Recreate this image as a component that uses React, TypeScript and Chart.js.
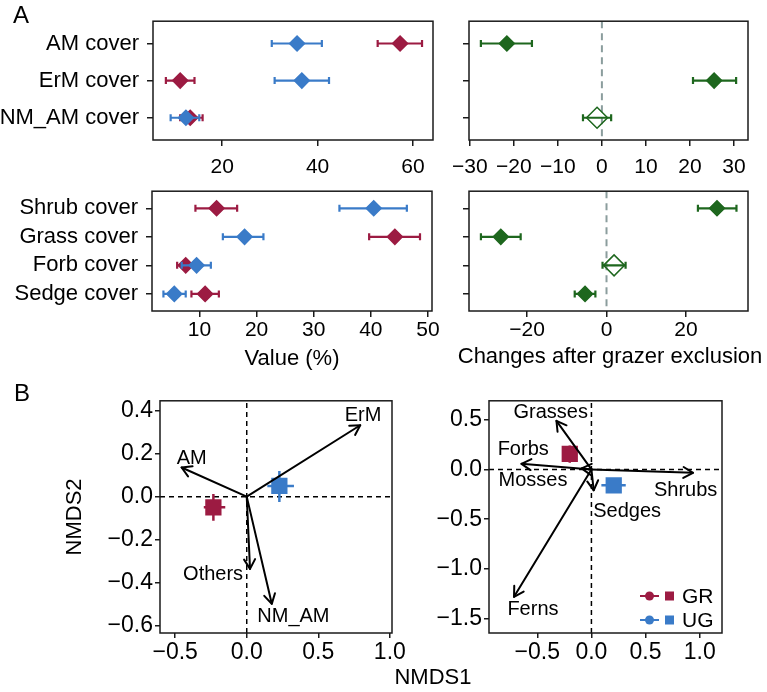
import React, { useEffect, useRef } from 'react';
import { Chart, registerables } from 'chart.js';
Chart.register(...registerables);

const FONT = "'Liberation Sans', Arial, Helvetica, sans-serif";
const RED = '#9c1b42';
const BLUE = '#3a7bc8';
const GREEN = '#1e671e';
const ZERO_GRAY = '#8b9d9d';

// ---- Panel A, mycorrhizal cover ----
const mycCategories = ['AM cover', 'ErM cover', 'NM_AM cover'];
const mycGR = [57.3, 11.2, 13.3];
const mycGRLo = [52.6, 8.2, 11.2];
const mycGRHi = [61.9, 14.2, 15.9];
const mycUG = [35.7, 36.7, 12.4];
const mycUGLo = [30.4, 31.0, 9.2];
const mycUGHi = [40.9, 42.4, 15.2];
const mycChange = [-21.6, 25.5, -1.1];
const mycChangeLo = [-27.5, 20.7, -4.3];
const mycChangeHi = [-15.9, 30.5, 2.1];
const mycChangeSig = [true, true, false];
const mycValueTicks = [20, 40, 60];
const mycChangeTicks = [-30, -20, -10, 0, 10, 20, 30];

// ---- Panel A, plant functional group cover ----
const plantCategories = ['Shrub cover', 'Grass cover', 'Forb cover', 'Sedge cover'];
const plantGR = [13.0, 44.2, 7.6, 11.0];
const plantGRLo = [9.3, 39.7, 6.1, 8.6];
const plantGRHi = [16.6, 48.6, 9.0, 13.4];
const plantUG = [40.5, 17.9, 9.5, 5.6];
const plantUGLo = [34.5, 14.1, 6.9, 3.7];
const plantUGHi = [46.3, 21.2, 12.0, 7.6];
const plantChange = [27.8, -26.6, 1.9, -5.4];
const plantChangeLo = [23.0, -31.6, -1.0, -8.0];
const plantChangeHi = [32.7, -21.6, 4.8, -2.8];
const plantChangeSig = [true, true, false, true];
const plantValueTicks = [10, 20, 30, 40, 50];
const plantChangeTicks = [-20, 0, 20];

// ---- Panel B, NMDS of mycorrhizal types ----
const nmdsTicksX = [-0.5, 0, 0.5, 1.0];
const myc2TicksY = [0.4, 0.2, 0, -0.2, -0.4, -0.6];
const mycGroupX = [-0.233, 0.228]; // GR, UG
const mycGroupY = [-0.05, 0.05];
const mycGroupXLo = [-0.3, 0.144];
const mycGroupXHi = [-0.15, 0.33];
const mycGroupYLo = [-0.112, -0.025];
const mycGroupYHi = [0.012, 0.119];
const mycVectors = ['ErM', 'AM', 'Others', 'NM_AM'];
const mycVecX = [0.793, -0.455, 0.023, 0.175];
const mycVecY = [0.333, 0.136, -0.337, -0.5];
const mycVecLabelX = [0.813, -0.385, -0.235, 0.326];
const mycVecLabelY = [0.38, 0.18, -0.363, -0.56];

// ---- Panel B, NMDS of plant functional groups ----
const plant2TicksY = [0.5, 0, -0.5, -1.0, -1.5];
const plantGroupX = [-0.2, 0.206];
const plantGroupY = [0.155, -0.16];
const plantGroupXLo = [-0.23, 0.092];
const plantGroupXHi = [-0.17, 0.317];
const plantGroupYLo = [0.066, -0.19];
const plantGroupYHi = [0.24, -0.13];
const plantVectors = ['Grasses', 'Forbs', 'Mosses', 'Shrubs', 'Sedges', 'Ferns'];
const plantVecX = [-0.323, -0.646, -0.09, 0.938, 0.021, -0.715];
const plantVecY = [0.488, 0.056, 0.01, -0.034, -0.21, -1.28];
const plantVecLabelX = [-0.376, -0.63, -0.54, 0.87, 0.33, -0.54];
const plantVecLabelY = [0.57, 0.2, -0.11, -0.21, -0.425, -1.41];

const groupNames = ['GR', 'UG'];
const groupColors = [RED, BLUE];

type Rect = { x: number; y: number; w: number; h: number };
type Box = { l: number; t: number; r: number; b: number };

const fmt = (v: number, digits: number) => {
  const s = digits ? v.toFixed(digits) : String(Math.round(v));
  return s.replace('-', '\u2212');
};

const framePlugin = {
  id: 'frame',
  afterDatasetsDraw(chart: any) {
    const { ctx, chartArea: a } = chart;
    ctx.save();
    ctx.strokeStyle = '#1a1a1a';
    ctx.lineWidth = 1.5;
    ctx.strokeRect(a.left, a.top, a.right - a.left, a.bottom - a.top);
    ctx.restore();
  },
};

function axis(tickLen: number, pad: number, size: number) {
  return {
    grid: { display: true, drawOnChartArea: false, drawTicks: true, tickLength: tickLen, color: '#1a1a1a', lineWidth: 1.5 },
    border: { display: false },
    ticks: { color: '#000', font: { family: FONT, size }, padding: pad, autoSkip: false, maxRotation: 0, minRotation: 0 },
  };
}

function baseOptions(rect: Rect, box: Box) {
  return {
    responsive: false,
    animation: false as const,
    devicePixelRatio: 1,
    layout: {
      autoPadding: false,
      padding: { left: 0, top: box.t - rect.y, right: rect.x + rect.w - box.r, bottom: 0 },
    },
    plugins: { legend: { display: false }, tooltip: { enabled: false } },
    events: [] as any[],
  };
}

type Series = { values: number[]; lo: number[]; hi: number[]; color: string; filled?: boolean[] };

function forestChart(
  canvas: HTMLCanvasElement,
  rect: Rect,
  box: Box,
  p: {
    cats: string[];
    series: Series[];
    xMin: number;
    xMax: number;
    xTicks: number[];
    showCats: boolean;
    zeroLine: boolean;
    title?: string;
    xPad: number;
    yPad: number;
  }
) {
  const n = p.cats.length;
  const datasets: any[] = [];
  if (p.zeroLine) {
    datasets.push({
      data: [{ x: 0, y: 0.4 }, { x: 0, y: n + 0.6 }],
      showLine: true,
      borderColor: ZERO_GRAY,
      borderWidth: 2,
      borderDash: [7, 5],
      pointRadius: 0,
      order: 1000,
    });
  }
  p.series.forEach((s, si) => {
    const base = (p.series.length - si) * 10;
    s.values.forEach((_, i) => {
      datasets.push({
        data: [{ x: s.lo[i], y: i + 1 }, { x: s.hi[i], y: i + 1 }],
        showLine: true,
        borderColor: s.color,
        borderWidth: 2.2,
        pointStyle: 'line',
        pointRotation: 90,
        pointRadius: 3.5,
        pointBorderColor: s.color,
        pointBorderWidth: 2.2,
        order: base + 1,
      });
    });
    datasets.push({
      data: s.values.map((v, i) => ({ x: v, y: i + 1 })),
      showLine: false,
      pointStyle: 'rectRot',
      pointRadius: s.values.map((_, i) => (s.filled && !s.filled[i] ? 10.5 : 7.5)),
      pointBackgroundColor: s.values.map((_, i) => (s.filled && !s.filled[i] ? 'rgba(0,0,0,0)' : s.color)),
      pointBorderColor: s.color,
      pointBorderWidth: 1.5,
      order: base,
    });
  });
  const xAxis: any = axis(6, p.xPad, 21);
  const yAxis: any = axis(6, p.yPad, 22);
  const options: any = {
    ...baseOptions(rect, box),
    scales: {
      x: {
        type: 'linear',
        min: p.xMin,
        max: p.xMax,
        ...xAxis,
        afterBuildTicks: (sc: any) => {
          sc.ticks = p.xTicks.map((v) => ({ value: v }));
        },
        afterFit: (sc: any) => {
          sc.height = rect.y + rect.h - box.b;
        },
        ticks: { ...xAxis.ticks, callback: (v: number) => fmt(v, 0) },
        title: p.title
          ? { display: true, text: p.title, color: '#000', font: { family: FONT, size: 22 }, padding: { top: 0, bottom: 0 } }
          : { display: false },
      },
      y: {
        type: 'linear',
        min: 0.4,
        max: n + 0.6,
        reverse: true,
        ...yAxis,
        afterBuildTicks: (sc: any) => {
          sc.ticks = p.cats.map((_, i) => ({ value: i + 1 }));
        },
        afterFit: (sc: any) => {
          sc.width = box.l - rect.x;
        },
        ticks: { ...yAxis.ticks, callback: (v: number) => (p.showCats ? p.cats[Math.round(v) - 1] : '') },
      },
    },
  };
  return new Chart(canvas, { type: 'scatter', data: { datasets }, options, plugins: [framePlugin] });
}

function makeArrowPlugin(names: string[], tx: number[], ty: number[], lx: number[], ly: number[]) {
  return {
    id: 'arrows',
    afterDatasetsDraw(chart: any) {
      const { ctx, scales } = chart;
      const x = scales.x;
      const y = scales.y;
      const x0 = x.getPixelForValue(0);
      const y0 = y.getPixelForValue(0);
      ctx.save();
      ctx.strokeStyle = '#000';
      ctx.lineWidth = 2;
      ctx.lineCap = 'round';
      ctx.lineJoin = 'round';
      names.forEach((name, i) => {
        const px = x.getPixelForValue(tx[i]);
        const py = y.getPixelForValue(ty[i]);
        ctx.beginPath();
        ctx.moveTo(x0, y0);
        ctx.lineTo(px, py);
        ctx.stroke();
        const ang = Math.atan2(py - y0, px - x0);
        const L = 11;
        const A = Math.PI / 6;
        ctx.beginPath();
        ctx.moveTo(px - L * Math.cos(ang - A), py - L * Math.sin(ang - A));
        ctx.lineTo(px, py);
        ctx.lineTo(px - L * Math.cos(ang + A), py - L * Math.sin(ang + A));
        ctx.stroke();
        ctx.font = `20px ${FONT}`;
        ctx.fillStyle = '#000';
        ctx.textAlign = 'center';
        ctx.textBaseline = 'middle';
        ctx.fillText(name, x.getPixelForValue(lx[i]), y.getPixelForValue(ly[i]));
      });
      ctx.restore();
    },
  };
}

const legendPlugin = {
  id: 'groupLegend',
  afterDatasetsDraw(chart: any) {
    const { ctx, chartArea: a } = chart;
    ctx.save();
    groupNames.forEach((name, i) => {
      const cy = a.bottom - 37 + i * 24;
      const c = groupColors[i];
      ctx.strokeStyle = c;
      ctx.fillStyle = c;
      ctx.lineWidth = 2;
      ctx.beginPath();
      ctx.moveTo(a.right - 82, cy);
      ctx.lineTo(a.right - 63, cy);
      ctx.stroke();
      ctx.beginPath();
      ctx.arc(a.right - 72.5, cy, 4.5, 0, Math.PI * 2);
      ctx.fill();
      ctx.fillRect(a.right - 57, cy - 4.5, 9, 9);
      ctx.fillStyle = '#000';
      ctx.font = `21px ${FONT}`;
      ctx.textAlign = 'left';
      ctx.textBaseline = 'middle';
      ctx.fillText(name, a.right - 40, cy + 1);
    });
    ctx.restore();
  },
};

function ordChart(
  canvas: HTMLCanvasElement,
  rect: Rect,
  box: Box,
  p: {
    xMin: number;
    xMax: number;
    yMin: number;
    yMax: number;
    xTicks: number[];
    yTicks: number[];
    gx: number[];
    gy: number[];
    gxLo: number[];
    gxHi: number[];
    gyLo: number[];
    gyHi: number[];
    arrows: any;
    legend: boolean;
    yTitle?: string;
  }
) {
  const datasets: any[] = [
    {
      data: [{ x: p.xMin, y: 0 }, { x: p.xMax, y: 0 }],
      showLine: true,
      borderColor: '#000',
      borderWidth: 1.5,
      borderDash: [5, 4],
      pointRadius: 0,
      order: 1000,
    },
    {
      data: [{ x: 0, y: p.yMin }, { x: 0, y: p.yMax }],
      showLine: true,
      borderColor: '#000',
      borderWidth: 1.5,
      borderDash: [5, 4],
      pointRadius: 0,
      order: 1000,
    },
  ];
  groupNames.forEach((_, gi) => {
    const c = groupColors[gi];
    const base = (groupNames.length - gi) * 10;
    datasets.push({
      data: [{ x: p.gxLo[gi], y: p.gy[gi] }, { x: p.gxHi[gi], y: p.gy[gi] }],
      showLine: true,
      borderColor: c,
      borderWidth: 2.5,
      pointRadius: 0,
      order: base + 1,
    });
    datasets.push({
      data: [{ x: p.gx[gi], y: p.gyLo[gi] }, { x: p.gx[gi], y: p.gyHi[gi] }],
      showLine: true,
      borderColor: c,
      borderWidth: 2.5,
      pointRadius: 0,
      order: base + 1,
    });
    datasets.push({
      data: [{ x: p.gx[gi], y: p.gy[gi] }],
      showLine: false,
      pointStyle: 'rect',
      pointRadius: 11.5,
      pointBackgroundColor: c,
      pointBorderColor: c,
      pointBorderWidth: 0,
      order: base,
    });
  });
  const xAxis: any = axis(5, 1, 23);
  const yAxis: any = axis(5, 2, 23);
  const options: any = {
    ...baseOptions(rect, box),
    scales: {
      x: {
        type: 'linear',
        min: p.xMin,
        max: p.xMax,
        ...xAxis,
        afterBuildTicks: (sc: any) => {
          sc.ticks = p.xTicks.map((v) => ({ value: v }));
        },
        afterFit: (sc: any) => {
          sc.height = rect.y + rect.h - box.b;
        },
        ticks: { ...xAxis.ticks, callback: (v: number) => fmt(v, 1) },
      },
      y: {
        type: 'linear',
        min: p.yMin,
        max: p.yMax,
        ...yAxis,
        afterBuildTicks: (sc: any) => {
          sc.ticks = p.yTicks.map((v) => ({ value: v }));
        },
        afterFit: (sc: any) => {
          sc.width = box.l - rect.x;
        },
        ticks: { ...yAxis.ticks, callback: (v: number) => fmt(v, 1) },
        title: p.yTitle
          ? { display: true, text: p.yTitle, color: '#000', font: { family: FONT, size: 22 }, padding: { top: 0, bottom: 0 } }
          : { display: false },
      },
    },
  };
  const plugins: any[] = [framePlugin, p.arrows];
  if (p.legend) plugins.push(legendPlugin);
  return new Chart(canvas, { type: 'scatter', data: { datasets }, options, plugins });
}

function ChartCanvas({ rect, build }: { rect: Rect; build: (c: HTMLCanvasElement) => Chart }) {
  const ref = useRef<HTMLCanvasElement>(null);
  useEffect(() => {
    const ch = build(ref.current!);
    return () => ch.destroy();
  }, []);
  return (
    <canvas
      ref={ref}
      width={rect.w}
      height={rect.h}
      style={{ position: 'absolute', left: rect.x, top: rect.y, width: rect.w, height: rect.h }}
    />
  );
}

const rA1: Rect = { x: 0, y: 0, w: 450, h: 185 };
const bA1: Box = { l: 153, t: 15, r: 433, b: 140 };
const rA2: Rect = { x: 440, y: 0, w: 327, h: 185 };
const bA2: Box = { l: 469, t: 15, r: 748, b: 140 };
const rA3: Rect = { x: 0, y: 170, w: 450, h: 202 };
const bA3: Box = { l: 152, t: 186, r: 432, b: 311 };
const rA4: Rect = { x: 440, y: 170, w: 327, h: 202 };
const bA4: Box = { l: 469, t: 186, r: 748, b: 311 };
const rB1: Rect = { x: 62, y: 385, w: 350, h: 290 };
const bB1: Box = { l: 160, t: 398, r: 392, b: 633 };
const rB2: Rect = { x: 425, y: 385, w: 342, h: 290 };
const bB2: Box = { l: 489, t: 398, r: 722, b: 633 };

const textStyle = (left: number, top: number, size: number): React.CSSProperties => ({
  position: 'absolute',
  left,
  top,
  fontFamily: FONT,
  fontSize: size,
  lineHeight: `${size}px`,
  color: '#000',
  whiteSpace: 'nowrap',
});

export default function App() {
  return (
    <div style={{ position: 'absolute', left: 0, top: 0, width: 767, height: 692, background: '#fff', overflow: 'hidden' }}>
      <ChartCanvas
        rect={rA1}
        build={(c) =>
          forestChart(c, rA1, bA1, {
            cats: mycCategories,
            series: [
              { values: mycGR, lo: mycGRLo, hi: mycGRHi, color: RED },
              { values: mycUG, lo: mycUGLo, hi: mycUGHi, color: BLUE },
            ],
            xMin: 5.5,
            xMax: 64.2,
            xTicks: mycValueTicks,
            showCats: true,
            zeroLine: false,
            xPad: 9,
            yPad: 8,
          })
        }
      />
      <ChartCanvas
        rect={rA2}
        build={(c) =>
          forestChart(c, rA2, bA2, {
            cats: mycCategories,
            series: [{ values: mycChange, lo: mycChangeLo, hi: mycChangeHi, color: GREEN, filled: mycChangeSig }],
            xMin: -30.2,
            xMax: 33.2,
            xTicks: mycChangeTicks,
            showCats: false,
            zeroLine: true,
            xPad: 9,
            yPad: 8,
          })
        }
      />
      <ChartCanvas
        rect={rA3}
        build={(c) =>
          forestChart(c, rA3, bA3, {
            cats: plantCategories,
            series: [
              { values: plantGR, lo: plantGRLo, hi: plantGRHi, color: RED },
              { values: plantUG, lo: plantUGLo, hi: plantUGHi, color: BLUE },
            ],
            xMin: 1.7,
            xMax: 50.7,
            xTicks: plantValueTicks,
            showCats: true,
            zeroLine: false,
            title: 'Value (%)',
            xPad: 1,
            yPad: 8,
          })
        }
      />
      <ChartCanvas
        rect={rA4}
        build={(c) =>
          forestChart(c, rA4, bA4, {
            cats: plantCategories,
            series: [{ values: plantChange, lo: plantChangeLo, hi: plantChangeHi, color: GREEN, filled: plantChangeSig }],
            xMin: -34.6,
            xMax: 35.6,
            xTicks: plantChangeTicks,
            showCats: false,
            zeroLine: true,
            xPad: 1,
            yPad: 8,
          })
        }
      />
      <ChartCanvas
        rect={rB1}
        build={(c) =>
          ordChart(c, rB1, bB1, {
            xMin: -0.606,
            xMax: 1.015,
            yMin: -0.636,
            yMax: 0.447,
            xTicks: nmdsTicksX,
            yTicks: myc2TicksY,
            gx: mycGroupX,
            gy: mycGroupY,
            gxLo: mycGroupXLo,
            gxHi: mycGroupXHi,
            gyLo: mycGroupYLo,
            gyHi: mycGroupYHi,
            arrows: makeArrowPlugin(mycVectors, mycVecX, mycVecY, mycVecLabelX, mycVecLabelY),
            legend: false,
            yTitle: 'NMDS2',
          })
        }
      />
      <ChartCanvas
        rect={rB2}
        build={(c) =>
          ordChart(c, rB2, bB2, {
            xMin: -0.946,
            xMax: 1.206,
            yMin: -1.643,
            yMax: 0.689,
            xTicks: nmdsTicksX,
            yTicks: plant2TicksY,
            gx: plantGroupX,
            gy: plantGroupY,
            gxLo: plantGroupXLo,
            gxHi: plantGroupXHi,
            gyLo: plantGroupYLo,
            gyHi: plantGroupYHi,
            arrows: makeArrowPlugin(plantVectors, plantVecX, plantVecY, plantVecLabelX, plantVecLabelY),
            legend: true,
          })
        }
      />
      <div style={textStyle(13, 3, 24)}>A</div>
      <div style={textStyle(14, 381, 24)}>B</div>
      <div style={{ ...textStyle(410, 345, 22), width: 400, textAlign: 'center' }}>Changes after grazer exclusion</div>
      <div style={{ ...textStyle(383, 666, 22), width: 100, textAlign: 'center' }}>NMDS1</div>
    </div>
  );
}
